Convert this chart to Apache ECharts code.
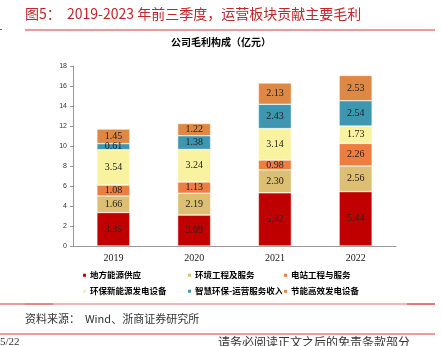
<!DOCTYPE html>
<html><head><meta charset="utf-8">
<script src="https://cdn.jsdelivr.net/npm/echarts@6/dist/echarts.min.js"></script>
<style>html,body{margin:0;padding:0;background:#fff}#c{width:442px;height:346px}</style>
</head><body><div id="c"></div>
<script>
const categories = ['2019','2020','2021','2022'];
const seriesNames = ['地方能源供应','环境工程及服务','电站工程与服务','环保新能源发电设备','智慧环保-运营服务收入','节能高效发电设备'];
const localEnergy = [3.35,3.09,5.32,5.44];
const envEngineering = [1.66,2.19,2.30,2.56];
const stationEngineering = [1.08,1.13,0.98,2.26];
const newEnergyEquip = [3.54,3.24,3.14,1.73];
const smartEnvOps = [0.61,1.38,2.43,2.54];
const efficientEquip = [1.45,1.22,2.13,2.53];
const yTicks = [0,2,4,6,8,10,12,14,16,18];
const colors = ['#C00000','#DCBF72','#EE7D42','#F9F29F','#3E97B0','#DE8843'];
const values = [localEnergy,envEngineering,stationEngineering,newEnergyEquip,smartEnvOps,efficientEquip];

const chart = echarts.init(document.getElementById('c'));
const serif = '"Liberation Serif","DejaVu Serif",serif';
const cjk = '"Noto Sans CJK SC",sans-serif';
const legendPos = [[81,271],[186,271],[282,271],[81,287],[186,287],[282,287]];
chart.setOption({
  animation:false,
  title:{text:'公司毛利构成（亿元）',left:'center',top:37,textStyle:{fontFamily:cjk,fontSize:10,fontWeight:'bold',color:'#000'},padding:0},
  legend: seriesNames.map((n,i)=>({data:[n],left:legendPos[i][0],top:legendPos[i][1],itemWidth:5,itemHeight:5,icon:'rect',itemGap:3,padding:0,
    textStyle:{fontFamily:cjk,fontSize:8.5,fontWeight:'bold',color:'#000',padding:[0,0,0,-2]}})),
  grid:{left:73,right:46,top:66,bottom:100},
  xAxis:{type:'category',data:categories,
    axisLine:{lineStyle:{color:'#999'}},axisTick:{length:4,lineStyle:{color:'#999'}},
    axisLabel:{fontFamily:serif,fontSize:10,color:'#222',margin:7}},
  yAxis:{type:'value',min:0,max:18,interval:2,splitLine:{show:false},
    axisLine:{show:true,lineStyle:{color:'#999'}},axisTick:{show:true,length:3,lineStyle:{color:'#999'}},
    axisLabel:{fontFamily:'"Liberation Sans",Arial,sans-serif',fontSize:7,color:'#333',margin:6,
      formatter:v=>yTicks.includes(v)?String(v):''}},
  series: seriesNames.map((n,i)=>({name:n,type:'bar',stack:'a',data:values[i],barWidth:33,
    itemStyle:{color:colors[i],borderColor:'#fff',borderWidth:0.5},
    label:{show:true,position:'inside',formatter:p=>p.value.toFixed(2),fontFamily:serif,fontSize:10,color:'#222'}})),
  graphic:[
    {type:'text',left:25,top:7,style:{text:'图5：  2019-2023 年前三季度，运营板块贡献主要毛利',font:'14px "Noto Sans CJK SC"',fill:'#C0262A'}},
    {type:'line',shape:{x1:25,y1:30,x2:435,y2:30},style:{stroke:'#D9363A',lineWidth:1}},
    {type:'line',shape:{x1:0,y1:29.5,x2:2,y2:29.5},style:{stroke:'#D9363A',lineWidth:1}},
    {type:'line',shape:{x1:0,y1:304,x2:53,y2:304},style:{stroke:'#D9363A',lineWidth:1}},
    {type:'line',shape:{x1:25,y1:304,x2:435,y2:304},style:{stroke:'#E07070',lineWidth:1}},
    {type:'line',shape:{x1:407,y1:304,x2:435,y2:304},style:{stroke:'#D9363A',lineWidth:1}},
    {type:'text',left:25,top:313,style:{text:'资料来源：  Wind、浙商证券研究所',font:'11px "Noto Sans CJK SC"',fill:'#333'}},
    {type:'line',shape:{x1:0,y1:334,x2:435,y2:334},style:{stroke:'#D9363A',lineWidth:1}},
    {type:'text',left:0,top:337,style:{text:'5/22',font:'11px "Liberation Serif"',fill:'#333'}},
    {type:'text',left:218,top:336,style:{text:'请务必阅读正文之后的免责条款部分',font:'12px "Noto Sans CJK SC"',fill:'#333'}}
  ]
});
</script></body></html>
